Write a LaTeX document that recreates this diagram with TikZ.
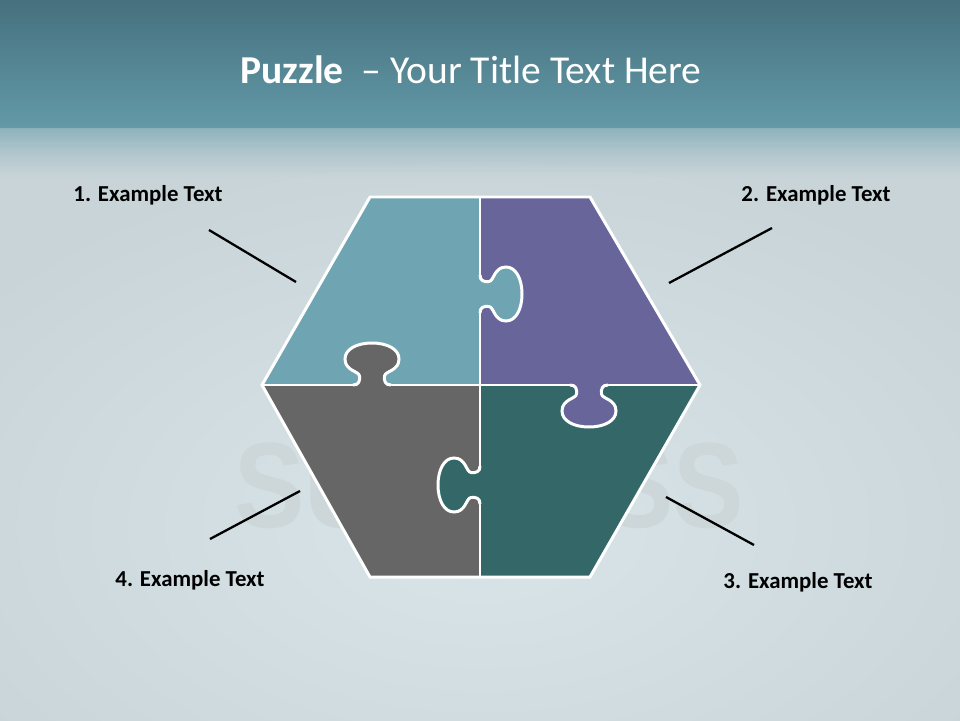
\documentclass[tikz,border=0pt]{standalone}
\usepackage{fontspec}
\setmainfont{Carlito}
\newfontfamily\wmfont{Liberation Sans}
\usetikzlibrary{positioning}
\definecolor{slate}{HTML}{46707E}
\definecolor{lagoon}{HTML}{639AA8}
\definecolor{veil}{HTML}{8DB2BC}
\definecolor{mist}{HTML}{C8D4D8}
\definecolor{glow}{HTML}{D9E5E9}
\definecolor{pteal}{HTML}{6FA5B2}
\definecolor{pviolet}{HTML}{67659A}
\definecolor{pgrey}{HTML}{666666}
\definecolor{ppine}{HTML}{346868}
\definecolor{wmface}{HTML}{CDD6D9}
\tikzset{
  seam/.style={draw=white,line width=1.7pt},
  lead/.style={draw=black,line width=1.3pt},
  tag/.style={font=\fontsize{13}{15}\selectfont\bfseries,text=black},
  wm/.style={font=\wmfont\bfseries\fontsize{60}{60}\selectfont,yscale=1.15,inner sep=0pt},
  % puzzle knob, local v points outward
  pics/tab/.style={code={
    \fill[#1] (-19,-3) -- (-19,0) .. controls (-13,0) and (-12,4) .. (-12.5,9)
      .. controls (-13,14) and (-27,14) .. (-27,26) .. controls (-27,36) and (-15,42) .. (0,42)
      .. controls (15,42) and (27,36) .. (27,26) .. controls (27,14) and (13,14) .. (12.5,9)
      .. controls (12,4) and (13,0) .. (19,0) -- (19,-3) -- cycle;
    \draw[seam] (-19,0) .. controls (-13,0) and (-12,4) .. (-12.5,9)
      .. controls (-13,14) and (-27,14) .. (-27,26) .. controls (-27,36) and (-15,42) .. (0,42)
      .. controls (15,42) and (27,36) .. (27,26) .. controls (27,14) and (13,14) .. (12.5,9)
      .. controls (12,4) and (13,0) .. (19,0);
  }},
  pics/tab/.default=pgrey,
}
\begin{document}
\begin{tikzpicture}[x=0.02cm,y=-0.02cm]
  \useasboundingbox (0,0) rectangle (960,720);
  % backdrop
  \fill[mist] (0,0) rectangle (960,720);
  \shade[inner color=glow,outer color=mist] (-150,150) rectangle (1110,900);
  \shade[top color=slate,bottom color=lagoon] (0,0) rectangle (960,128);
  \foreach \i [evaluate=\i as \op using 0.95*(1-\i/20)^1.3] in {0,...,19}
    \fill[veil,opacity=\op] (0,128+2.5*\i) rectangle (960,130.5+2.5*\i);
  \node[wm,text=wmface] (wm) at (489,486) {SUCCESS};
  \node[font=\fontsize{22.5}{26}\selectfont,text=white] (title) at (471,70) {\textbf{Puzzle}\ \ – Your Title Text Here};
  % puzzle pieces
  \fill[pteal] (262,385) -- (370,197) -- (480,197) -- (480,385) -- cycle;
  \fill[pviolet] (480,197) -- (590,197) -- (700,385) -- (480,385) -- cycle;
  \fill[ppine] (480,385) -- (700,385) -- (590,577) -- (480,577) -- cycle;
  \fill[pgrey] (262,385) -- (480,385) -- (480,577) -- (370,577) -- cycle;
  \draw[seam] (262,385) -- (700,385) (480,197) -- (480,577);
  \pic[rotate=180] at (372,385) {tab=pgrey};
  \pic[rotate=90] at (480,294) {tab=pteal};
  \pic[rotate=-90] at (480,485) {tab=ppine};
  \pic at (589,385) {tab=pviolet};
  \draw[seam,line join=miter] (262,385) -- (370,197) -- (590,197) -- (700,385) -- (590,577) -- (370,577) -- cycle;
  % labels and leaders
  \foreach \n/\tx/\ty/\ax/\ay/\bx/\by in {1/148/195/209/230/296/282,2/816/195/772/228/669/283,
      3/798/582/754/545/666/497,4/190/580/210/539/300/491}{
    \node[tag] (t\n) at (\tx,\ty) {\n. Example Text};
    \coordinate (a\n) at (\ax,\ay);
    \coordinate (b\n) at (\bx,\by);
    \draw[lead] (a\n) -- (b\n);
  }
\end{tikzpicture}
\end{document}
